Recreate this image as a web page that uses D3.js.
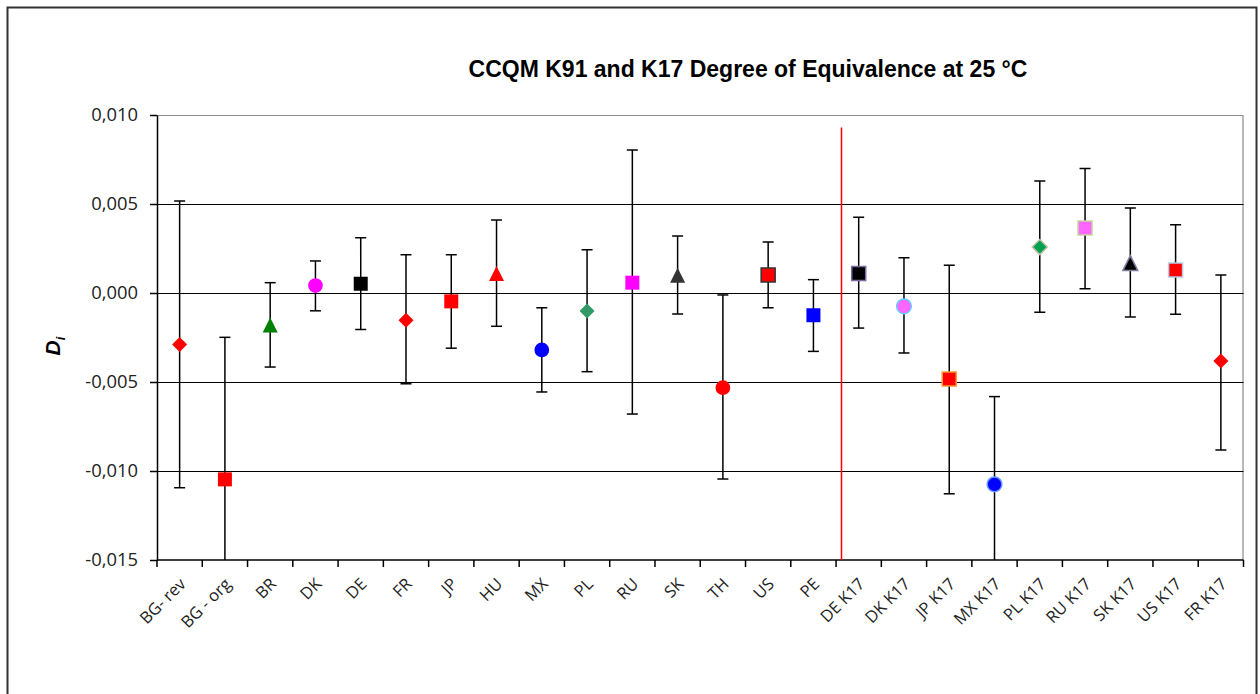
<!DOCTYPE html>
<html>
<head>
<meta charset="utf-8">
<title>CCQM K91 and K17 Degree of Equivalence</title>
<script src="https://cdn.jsdelivr.net/npm/d3@7"></script>
<style>
    body { margin: 0; background: white; }
    svg { display: block; }
    .tick-label { font-family: "Open Sans", sans-serif; fill: #222; }
</style>
</head>
<body>
<div id="chart"></div>
<script>
    // categories along the x axis
    var categories = ['BG- rev', 'BG - org', 'BR', 'DK', 'DE', 'FR', 'JP', 'HU', 'MX', 'PL', 'RU', 'SK',
        'TH', 'US', 'PE', 'DE K17', 'DK K17', 'JP K17', 'MX K17', 'PL K17', 'RU K17', 'SK K17', 'US K17', 'FR K17'];

    // degree of equivalence D_i and its expanded uncertainty limits
    var values = [-0.0029, -0.01047, -0.0018, 0.00042, 0.00052, -0.00153, -0.00047, 0.0011, -0.0032, -0.00101,
        0.00058, 0.0010, -0.00532, 0.00101, -0.00125, 0.0011, -0.00075, -0.00483, -0.01075, 0.00258,
        0.00365, 0.00168, 0.00129, -0.00382];
    var upper = [0.00517, -0.00249, 0.00058, 0.0018, 0.0031, 0.00215, 0.00215, 0.0041, -0.00083, 0.00243,
        0.00803, 0.0032, -0.00011, 0.00287, 0.00075, 0.00426, 0.00198, 0.00156, -0.00582, 0.00629,
        0.0070, 0.00478, 0.00384, 0.00101];
    var lower = [-0.01094, -0.0185, -0.00416, -0.001, -0.00205, -0.0051, -0.0031, -0.00187, -0.00556, -0.00442,
        -0.0068, -0.00118, -0.01045, -0.00083, -0.00328, -0.00197, -0.00337, -0.01128, -0.0157, -0.00108,
        0.00024, -0.00135, -0.0012, -0.00882];

    var yTickValues = [-0.015, -0.010, -0.005, 0, 0.005, 0.010];
    var yTickLabels = ['-0,015', '-0,010', '-0,005', '0,000', '0,005', '0,010'];

    // K91 / K17 divider (in category units) and its top
    var dividerAt = 15.12;
    var dividerTop = 0.0093;

    // marker styles, one per category
    var shapes = ['diamond', 'square', 'triangle', 'circle', 'square', 'diamond', 'square', 'triangle',
        'circle', 'diamond', 'square', 'triangle', 'circle', 'square', 'square', 'square', 'circle',
        'square', 'circle', 'diamond', 'square', 'triangle', 'square', 'diamond'];
    var fills = ['#ff0000', '#ff0000', '#008000', '#ff00ff', '#000000', '#ff0000', '#ff0000', '#ff0000',
        '#0000ff', '#339966', '#ff00ff', '#333333', '#ff0000', '#ff0000', '#0000ff', '#000000', '#ff66ff',
        '#ff0000', '#0000ff', '#00a050', '#ff66ff', '#000000', '#ff0000', '#ff0000'];
    var strokes = ['none', 'none', 'none', 'none', 'none', 'none', 'none', 'none',
        'none', 'none', 'none', 'none', 'none', '#333333', 'none', '#7f6a9f', '#66ccff',
        '#ff9933', '#6699ff', '#c0c0a0', '#c3d69b', '#8080a0', '#b8cce4', 'none'];

    var width = 1260, height = 694;
    var plotLeft = 157, plotRight = 1243.5, plotTop = 115, plotBottom = 560;

    var svg = d3.select('#chart')
        .append('svg')
        .attr('width', width)
        .attr('height', height);

    // outer chart frame
    svg.append('rect')
        .attr('x', 7.5)
        .attr('y', 7.5)
        .attr('width', 1249)
        .attr('height', 720)
        .attr('fill', 'white')
        .attr('stroke', '#333')
        .attr('stroke-width', 2);

    var x = d3.scaleBand().domain(categories).range([plotLeft, plotRight]);
    var xPos = d3.scaleLinear().domain([0, categories.length]).range([plotLeft, plotRight]);
    var y = d3.scaleLinear().domain([-0.015, 0.010]).range([plotBottom, plotTop]);

    svg.append('defs').append('clipPath')
        .attr('id', 'plot-clip')
        .append('rect')
        .attr('x', plotLeft)
        .attr('y', plotTop)
        .attr('width', plotRight - plotLeft)
        .attr('height', plotBottom - plotTop);

    // plot area border (gray top and right)
    svg.append('path')
        .attr('d', 'M' + plotLeft + ',' + (plotTop + 0.5) + 'H' + (plotRight - 0.5) + 'V' + plotBottom)
        .attr('fill', 'none')
        .attr('stroke', '#8c8c8c')
        .attr('stroke-width', 1.2);

    // horizontal gridlines
    svg.append('g')
        .selectAll('line')
        .data(yTickValues.filter(function(d) { return d > -0.015 && d < 0.010; }))
        .join('line')
            .attr('x1', plotLeft)
            .attr('x2', plotRight)
            .attr('y1', function(d) { return Math.round(y(d)) + 0.5; })
            .attr('y2', function(d) { return Math.round(y(d)) + 0.5; })
            .attr('stroke', '#000')
            .attr('stroke-width', 1.2);

    // y axis
    var yAxis = d3.axisLeft(y)
        .tickValues(yTickValues)
        .tickFormat(function(d, i) { return yTickLabels[i]; })
        .tickSizeInner(7)
        .tickSizeOuter(0)
        .tickPadding(12);
    var gy = svg.append('g')
        .attr('transform', 'translate(' + plotLeft + ',0)')
        .call(yAxis);
    gy.select('.domain').attr('stroke', '#000').attr('stroke-width', 1.5);
    gy.selectAll('.tick line').attr('stroke', '#000').attr('stroke-width', 1.5);
    gy.selectAll('.tick text')
        .attr('class', 'tick-label')
        .style('font-size', '18.4px');

    // x axis: ticks sit on category boundaries
    svg.append('line')
        .attr('x1', plotLeft)
        .attr('x2', plotRight)
        .attr('y1', plotBottom)
        .attr('y2', plotBottom)
        .attr('stroke', '#000')
        .attr('stroke-width', 1.5);
    svg.append('g')
        .selectAll('line')
        .data(d3.range(categories.length + 1))
        .join('line')
            .attr('x1', function(d) { return xPos(d); })
            .attr('x2', function(d) { return xPos(d); })
            .attr('y1', plotBottom)
            .attr('y2', plotBottom + 7)
            .attr('stroke', '#000')
            .attr('stroke-width', 1.5);
    svg.append('g')
        .selectAll('text')
        .data(categories)
        .join('text')
            .attr('class', 'tick-label')
            .attr('transform', function(d) {
                return 'translate(' + (x(d) + x.bandwidth() / 2 + 3) + ',' + (plotBottom + 21) + ') rotate(-45)';
            })
            .attr('text-anchor', 'end')
            .attr('dy', '0.35em')
            .style('font-size', '16.5px')
            .text(function(d) { return d; });

    // axis title D_i
    var yTitle = svg.append('text')
        .attr('transform', 'translate(60,346) rotate(-90)')
        .attr('text-anchor', 'middle')
        .style('font-family', 'Liberation Sans, Arial, sans-serif')
        .style('font-weight', 'bold')
        .style('font-style', 'italic')
        .style('font-size', '21px')
        .attr('fill', '#000');
    yTitle.append('tspan').text('D');
    yTitle.append('tspan').attr('dy', 5).style('font-size', '13px').text('i');

    // chart title
    svg.append('text')
        .attr('x', 748)
        .attr('y', 77)
        .attr('text-anchor', 'middle')
        .style('font-family', 'Liberation Sans, Arial, sans-serif')
        .style('font-weight', 'bold')
        .style('font-size', '23px')
        .attr('fill', '#000')
        .text('CCQM K91 and K17 Degree of Equivalence at 25 °C');

    // K91 / K17 divider
    svg.append('line')
        .attr('x1', xPos(dividerAt))
        .attr('x2', xPos(dividerAt))
        .attr('y1', y(dividerTop))
        .attr('y2', plotBottom)
        .attr('stroke', '#ff0000')
        .attr('stroke-width', 1.5);

    // error bars
    var capHalf = 5.5;
    var bars = svg.append('g')
        .attr('clip-path', 'url(#plot-clip)')
        .selectAll('g')
        .data(categories)
        .join('g')
            .attr('stroke', '#000')
            .attr('stroke-width', 1.5);
    bars.append('line')
        .attr('x1', function(d) { return x(d) + x.bandwidth() / 2; })
        .attr('x2', function(d) { return x(d) + x.bandwidth() / 2; })
        .attr('y1', function(d, i) { return y(upper[i]); })
        .attr('y2', function(d, i) { return y(lower[i]); });
    bars.append('line')
        .attr('x1', function(d) { return x(d) + x.bandwidth() / 2 - capHalf; })
        .attr('x2', function(d) { return x(d) + x.bandwidth() / 2 + capHalf; })
        .attr('y1', function(d, i) { return y(upper[i]); })
        .attr('y2', function(d, i) { return y(upper[i]); });
    bars.append('line')
        .attr('x1', function(d) { return x(d) + x.bandwidth() / 2 - capHalf; })
        .attr('x2', function(d) { return x(d) + x.bandwidth() / 2 + capHalf; })
        .attr('y1', function(d, i) { return y(lower[i]); })
        .attr('y2', function(d, i) { return y(lower[i]); });

    // markers
    function markerPath(shape) {
        if (shape === 'circle') return d3.symbol(d3.symbolCircle, 170)();
        if (shape === 'square') return 'M-7,-7H7V7H-7Z';
        if (shape === 'diamond') return 'M0,-7.5L7.5,0L0,7.5L-7.5,0Z';
        return 'M0,-7.5L7.5,7.5H-7.5Z';
    }

    svg.append('g')
        .selectAll('path')
        .data(categories)
        .join('path')
            .attr('transform', function(d, i) {
                return 'translate(' + (x(d) + x.bandwidth() / 2) + ',' + y(values[i]) + ')';
            })
            .attr('d', function(d, i) { return markerPath(shapes[i]); })
            .attr('fill', function(d, i) { return fills[i]; })
            .attr('stroke', function(d, i) { return strokes[i]; })
            .attr('stroke-width', 1.5);
</script>
</body>
</html>
